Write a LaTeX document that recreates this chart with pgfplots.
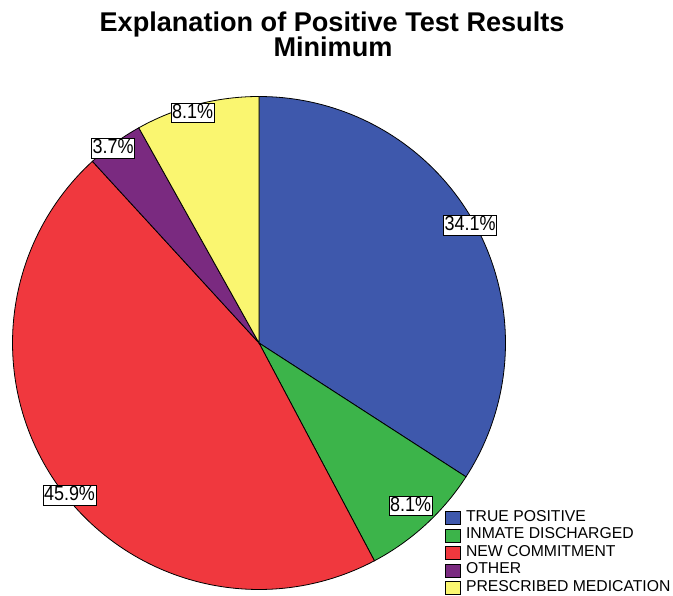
\documentclass[border=0pt]{standalone}
\usepackage{fontspec}
\setmainfont{Liberation Sans}
\newfontfamily\labfont[FakeStretch=0.88]{Liberation Sans}
\usepackage{pgfplots}
\pgfplotsset{compat=1.18}
\definecolor{cTP}{HTML}{3E58AC}
\definecolor{cID}{HTML}{3CB44A}
\definecolor{cNC}{HTML}{F0383E}
\definecolor{cOT}{HTML}{7A2A80}
\definecolor{cPM}{HTML}{FAF670}
% percentages
\def\vA{34.1}\def\vB{8.1}\def\vC{45.9}\def\vD{3.7}\def\vE{8.1}
\begin{document}
\begin{tikzpicture}
\pgfmathsetmacro\tot{\vA+\vB+\vC+\vD+\vE}
\pgfmathsetmacro\s{360/\tot}
\pgfmathsetmacro\aZ{90}
\pgfmathsetmacro\aA{\aZ-\vA*\s}
\pgfmathsetmacro\aB{\aA-\vB*\s}
\pgfmathsetmacro\aC{\aB-\vC*\s}
\pgfmathsetmacro\aD{\aC-\vD*\s}
\pgfmathsetmacro\aE{\aD-\vE*\s}
\def\cx{259}\def\cy{253}\def\R{246.5}
\begin{axis}[
  width=673bp, height=596bp, scale only axis,
  xmin=0, xmax=673, ymin=0, ymax=596,
  hide axis, clip=false,
  legend image code/.code={\draw[#1,draw=black,line width=0.6bp] (0bp,-6.5bp) rectangle (15bp,6.5bp);},
  legend cell align=left,
  legend style={at={(axis cs:445,86.5)}, anchor=north west, draw=none, fill=none,
    inner sep=0pt, outer sep=0pt, row sep=0pt,
    font=\fontsize{15.8}{17.6}\selectfont,
    nodes={inner ysep=0pt, inner xsep=0pt, text height=11.6bp, text depth=5.9bp},
    /tikz/every even column/.append style={column sep=0pt},
    /tikz/every odd column/.append style={column sep=5.5bp}},
]
\addplot[fill=cTP, draw=black, line width=0.8bp, domain=\aA:\aZ, samples=90, variable=\t]
  ({\cx+\R*cos(t)},{\cy+\R*sin(t)}) -- (axis cs:\cx,\cy) -- cycle;
\addlegendentry{TRUE POSITIVE}
\addplot[fill=cID, draw=black, line width=0.8bp, domain=\aB:\aA, samples=30, variable=\t]
  ({\cx+\R*cos(t)},{\cy+\R*sin(t)}) -- (axis cs:\cx,\cy) -- cycle;
\addlegendentry{INMATE DISCHARGED}
\addplot[fill=cNC, draw=black, line width=0.8bp, domain=\aC:\aB, samples=120, variable=\t]
  ({\cx+\R*cos(t)},{\cy+\R*sin(t)}) -- (axis cs:\cx,\cy) -- cycle;
\addlegendentry{NEW COMMITMENT}
\addplot[fill=cOT, draw=black, line width=0.8bp, domain=\aD:\aC, samples=20, variable=\t]
  ({\cx+\R*cos(t)},{\cy+\R*sin(t)}) -- (axis cs:\cx,\cy) -- cycle;
\addlegendentry{OTHER}
\addplot[fill=cPM, draw=black, line width=0.8bp, domain=\aE:\aD, samples=30, variable=\t]
  ({\cx+\R*cos(t)},{\cy+\R*sin(t)}) -- (axis cs:\cx,\cy) -- cycle;
\addlegendentry{PRESCRIBED MEDICATION}

\tikzset{lab/.style={fill=white, draw=black, line width=0.8bp, inner xsep=1bp, inner ysep=0pt,
  text height=15bp, text depth=4.5bp, font=\labfont\fontsize{20.5}{22}\selectfont}}
\node[lab] at (axis cs:470,370.5) {34.1\%};
\node[lab] at (axis cs:410.5,90) {8.1\%};
\node[lab] at (axis cs:69.5,100.5) {45.9\%};
\node[lab] at (axis cs:113,447.5) {3.7\%};
\node[lab] at (axis cs:192.5,483) {8.1\%};

\node[anchor=base, font=\bfseries\fontsize{27.2}{30}\selectfont, inner sep=0pt] at (axis cs:332,564) {Explanation of Positive Test Results};
\node[anchor=base, font=\bfseries\fontsize{27.2}{30}\selectfont, inner sep=0pt] at (axis cs:333,539) {Minimum};
\end{axis}
\pgfresetboundingbox
\path (current axis.south west) rectangle (current axis.north east);
\end{tikzpicture}
\end{document}
